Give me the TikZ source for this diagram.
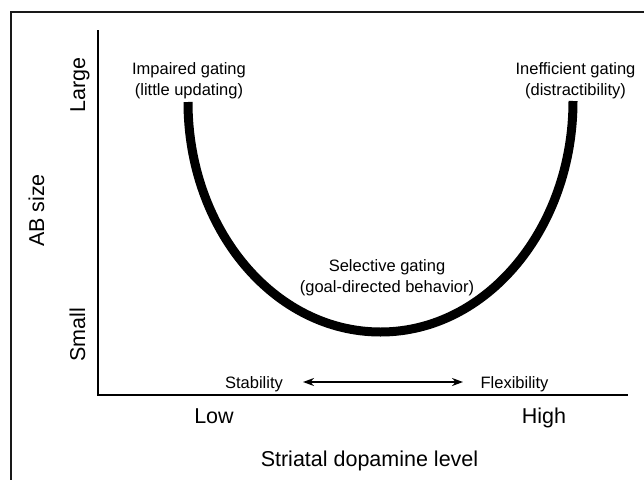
\documentclass[tikz,border=0pt]{standalone}
\usepackage{fontspec}
\setmainfont{Liberation Sans}
\usetikzlibrary{arrows.meta}
\begin{document}
\begin{tikzpicture}[x=1pt,y=-1pt,
  lab/.style={inner sep=0pt,font=\fontsize{16.5}{21}\selectfont,align=center},
  axlab/.style={inner sep=0pt,font=\fontsize{21.5}{25}\selectfont,anchor=base},
  frameline/.style={line width=1.6pt,black!90},
  axisline/.style={line width=2.2pt},
  curveline/.style={line width=9pt,line cap=butt}]
\useasboundingbox (0,0) rectangle (644,479);
% outer frame (top and left edges visible)
\coordinate (fbl) at (11,480);
\coordinate (ftl) at (11,12);
\coordinate (ftr) at (645,12);
\draw[frameline] (fbl) -- (ftl) -- (ftr);
% axes
\coordinate (ytop) at (98,30);
\coordinate (orig) at (98,395);
\coordinate (xend) at (628,395);
\draw[axisline] (ytop) -- (orig) -- (xend);
% U curve
\coordinate (cl) at (188,102);
\coordinate (cb) at (380.5,332);
\coordinate (cr) at (573,101);
\draw[curveline] (cl) .. controls (188,229) and (274,332) .. (cb)
                      .. controls (487,332) and (573,228) .. (cr);
% curve labels
\node[lab] (impaired) at (189,81) {Impaired gating\\(little updating)};
\node[lab] (ineff) at (575.5,81) {Inefficient gating\\(distractibility)};
\node[lab] (selective) at (387,278) {Selective gating\\(goal-directed behavior)};
% stability / flexibility
\node[lab,anchor=base] (stab) at (254,388) {Stability};
\node[lab,anchor=base] (flex) at (514.5,388) {Flexibility};
\coordinate (al) at (303,382);
\coordinate (ar) at (463,382);
\draw[line width=1.9pt,{Stealth[length=11pt,width=8pt]}-{Stealth[length=11pt,width=8pt]}] (al) -- (ar);
% axis labels
\node[axlab] (low) at (214,423) {Low};
\node[axlab] (high) at (544,423) {High};
\node[axlab] (xlab) at (369.5,466) {Striatal dopamine level};
\node[axlab,rotate=90] (large) at (85,85) {Large};
\node[axlab,rotate=90] (small) at (85,335) {Small};
\node[axlab,rotate=90] (ylab) at (44,210.5) {AB size};
\end{tikzpicture}
\end{document}
